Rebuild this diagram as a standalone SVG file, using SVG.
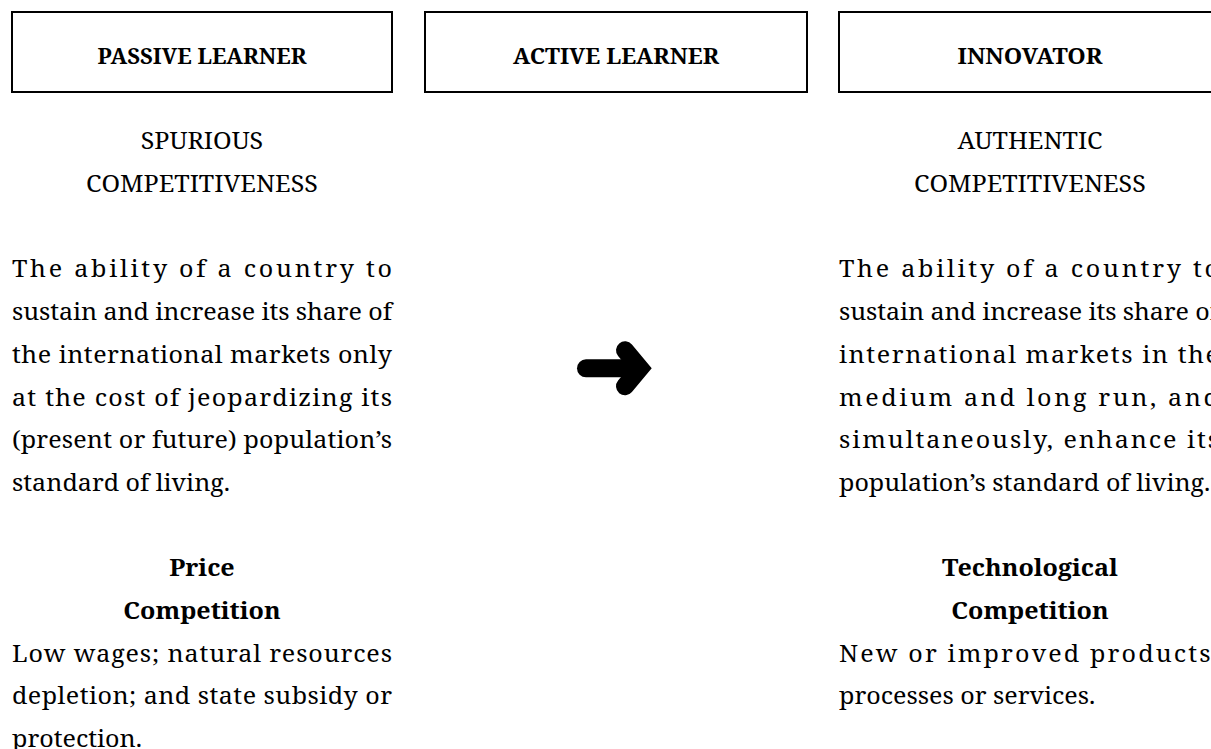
<svg xmlns="http://www.w3.org/2000/svg" width="1211" height="749" viewBox="0 0 1211 749">
  <style>
    .box { fill: #fff; stroke: #000; stroke-width: 2; }
    .head { font-family: "Noto Serif", "DejaVu Serif", "Liberation Serif", serif; font-size: 22px; font-weight: bold; fill: #000; text-anchor: middle; }
    .title { font-family: "Noto Serif", "DejaVu Serif", "Liberation Serif", serif; font-size: 23px; fill: #000; text-anchor: middle; }
    .sub { font-family: "Noto Serif", "DejaVu Serif", "Liberation Serif", serif; font-size: 23px; font-weight: bold; fill: #000; text-anchor: middle; }
    .body { font-family: "Noto Serif", "DejaVu Serif", "Liberation Serif", serif; font-size: 23px; fill: #000; }
    .arrow { fill: none; stroke: #000; stroke-width: 18; }
  </style>
  <rect width="1211" height="749" fill="#fff"/>

  <!-- Passive learner column -->
  <g id="passive-learner">
    <rect class="box" x="12" y="12" width="380" height="80"/>
    <text class="head" x="202" y="64" textLength="209" lengthAdjust="spacingAndGlyphs">PASSIVE LEARNER</text>
  </g>
  <!-- column text is set slightly wide: local x = (page x - 12) / 1.09 -->
  <g id="spurious-competitiveness" transform="translate(12,0) scale(1.09,1)">
    <text class="title" x="174.3" y="149">SPURIOUS</text>
    <text class="title" x="174.3" y="192">COMPETITIVENESS</text>
    <text class="body" x="0" y="277.5" textLength="348.6" lengthAdjust="spacing">The ability of a country to</text>
    <text class="body" x="0" y="320.2" textLength="348.6" lengthAdjust="spacing">sustain and increase its share of</text>
    <text class="body" x="0" y="362.9" textLength="348.6" lengthAdjust="spacing">the international markets only</text>
    <text class="body" x="0" y="405.6" textLength="348.6" lengthAdjust="spacing">at the cost of jeopardizing its</text>
    <text class="body" x="0" y="448.3" textLength="348.6" lengthAdjust="spacing">(present or future) population’s</text>
    <text class="body" x="0" y="491">standard of living.</text>
  </g>
  <g id="price-competition" transform="translate(12,0) scale(1.09,1)">
    <text class="sub" x="174.3" y="576.4">Price</text>
    <text class="sub" x="174.3" y="619.1">Competition</text>
    <text class="body" x="0" y="661.8" textLength="348.6" lengthAdjust="spacing">Low wages; natural resources</text>
    <text class="body" x="0" y="704.5" textLength="348.6" lengthAdjust="spacing">depletion; and state subsidy or</text>
    <text class="body" x="0" y="747.2">protection.</text>
  </g>

  <!-- Active learner column -->
  <g id="active-learner">
    <rect class="box" x="425" y="12" width="382" height="80"/>
    <text class="head" x="616" y="64" textLength="206" lengthAdjust="spacingAndGlyphs">ACTIVE  LEARNER</text>
  </g>

  <!-- Innovator column -->
  <g id="innovator">
    <rect class="box" x="839" y="12" width="382" height="80"/>
    <text class="head" x="1030" y="64" textLength="145" lengthAdjust="spacingAndGlyphs">INNOVATOR</text>
  </g>
  <!-- local x = (page x - 839) / 1.09 -->
  <g id="authentic-competitiveness" transform="translate(839,0) scale(1.09,1)">
    <text class="title" x="175.2" y="149">AUTHENTIC</text>
    <text class="title" x="175.2" y="192">COMPETITIVENESS</text>
    <text class="body" x="0" y="277.5" textLength="348.6" lengthAdjust="spacing">The ability of a country to</text>
    <text class="body" x="0" y="320.2" textLength="348.6" lengthAdjust="spacing">sustain and increase its share of</text>
    <text class="body" x="0" y="362.9" textLength="348.6" lengthAdjust="spacing">international markets in the</text>
    <text class="body" x="0" y="405.6" textLength="348.6" lengthAdjust="spacing">medium and long run, and</text>
    <text class="body" x="0" y="448.3" textLength="348.6" lengthAdjust="spacing">simultaneously, enhance its</text>
    <text class="body" x="0" y="491">population’s standard of living.</text>
  </g>
  <g id="technological-competition" transform="translate(839,0) scale(1.09,1)">
    <text class="sub" x="175.2" y="576.4">Technological</text>
    <text class="sub" x="175.2" y="619.1">Competition</text>
    <text class="body" x="0" y="661.8" textLength="348.6" lengthAdjust="spacing">New or improved products,</text>
    <text class="body" x="0" y="704.5">processes or services.</text>
  </g>

  <!-- Transition arrow -->
  <g id="connectors">
    <line class="arrow" x1="586" y1="368.3" x2="638" y2="368.3" stroke-linecap="round"/>
    <polyline class="arrow" points="625,350.3 640,368.3 625,386.3" stroke-linecap="round" stroke-linejoin="miter"/>
  </g>
</svg>
